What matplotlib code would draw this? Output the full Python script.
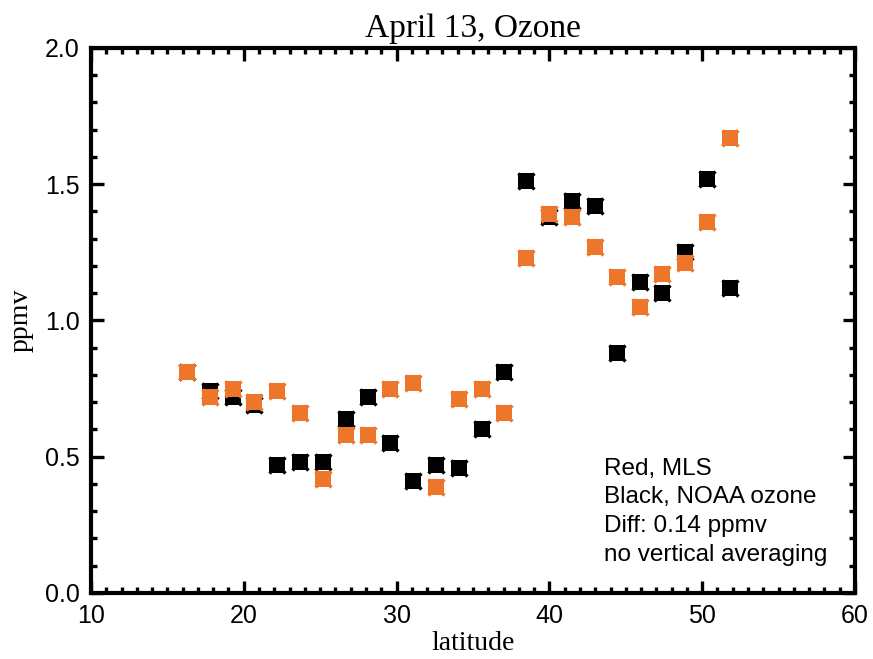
import matplotlib
matplotlib.use("Agg")
import matplotlib.pyplot as plt
from matplotlib.ticker import MultipleLocator, FormatStrFormatter

# Ozone mixing ratio versus latitude, April 13
latitude = [16.3, 17.8, 19.3, 20.7, 22.2, 23.7, 25.2, 26.7, 28.1, 29.6,
            31.1, 32.6, 34.1, 35.6, 37.0, 38.5, 40.0, 41.5, 43.0, 44.4,
            45.9, 47.4, 48.9, 50.3, 51.8]
mls_ppmv = [0.81, 0.72, 0.75, 0.70, 0.74, 0.66, 0.42, 0.58, 0.58, 0.75,
            0.77, 0.39, 0.71, 0.75, 0.66, 1.23, 1.39, 1.38, 1.27, 1.16,
            1.05, 1.17, 1.21, 1.36, 1.67]
noaa_ppmv = [0.81, 0.74, 0.72, 0.69, 0.47, 0.48, 0.48, 0.64, 0.72, 0.55,
             0.41, 0.47, 0.46, 0.60, 0.81, 1.51, 1.38, 1.44, 1.42, 0.88,
             1.14, 1.10, 1.25, 1.52, 1.12]

notes = ["Red, MLS", "Black, NOAA ozone", "Diff: 0.14 ppmv",
         "no vertical averaging"]

ORANGE = "#ee762b"
serif = ["Liberation Serif", "DejaVu Serif"]
sans = ["Liberation Sans", "DejaVu Sans"]

fig = plt.figure(figsize=(8.73, 6.59), dpi=100)
ax = fig.add_axes([0.1042, 0.1002, 0.8752, 0.8270])


def draw_series(x, y, color, z):
    ax.plot(x, y, linestyle="none", marker="s", markersize=11.5,
            markerfacecolor=color, markeredgecolor=color, markeredgewidth=0,
            zorder=z)
    ax.plot(x, y, linestyle="none", marker="x", markersize=12.2,
            markeredgecolor=color, markeredgewidth=2.4, zorder=z)


draw_series(latitude, noaa_ppmv, "black", 3)
draw_series(latitude, mls_ppmv, ORANGE, 4)

ax.set_xlim(10, 60)
ax.set_ylim(0, 2.0)
ax.xaxis.set_major_locator(MultipleLocator(10))
ax.xaxis.set_minor_locator(MultipleLocator(1))
ax.yaxis.set_major_locator(MultipleLocator(0.5))
ax.yaxis.set_minor_locator(MultipleLocator(0.1))
ax.yaxis.set_major_formatter(FormatStrFormatter("%.1f"))

ax.tick_params(which="both", direction="in", top=True, right=True,
               width=2.4, color="black")
ax.tick_params(which="major", length=9, labelsize=18, pad=8)
ax.tick_params(which="minor", length=4.5)
for lab in ax.get_xticklabels() + ax.get_yticklabels():
    lab.set_family(sans)
for sp in ax.spines.values():
    sp.set_linewidth(3.0)

ax.set_title("April 13, Ozone", family=serif, fontsize=24, pad=8)
ax.set_xlabel("latitude", family=serif, fontsize=20, labelpad=2)
ax.set_ylabel("ppmv", family=serif, fontsize=20, labelpad=8)

for i, line in enumerate(notes):
    ax.text(0.672, 0.217 - i * 0.0525, line, transform=ax.transAxes,
            family=sans, fontsize=17.5, va="baseline", ha="left")

fig.savefig("out.png", dpi=100)
